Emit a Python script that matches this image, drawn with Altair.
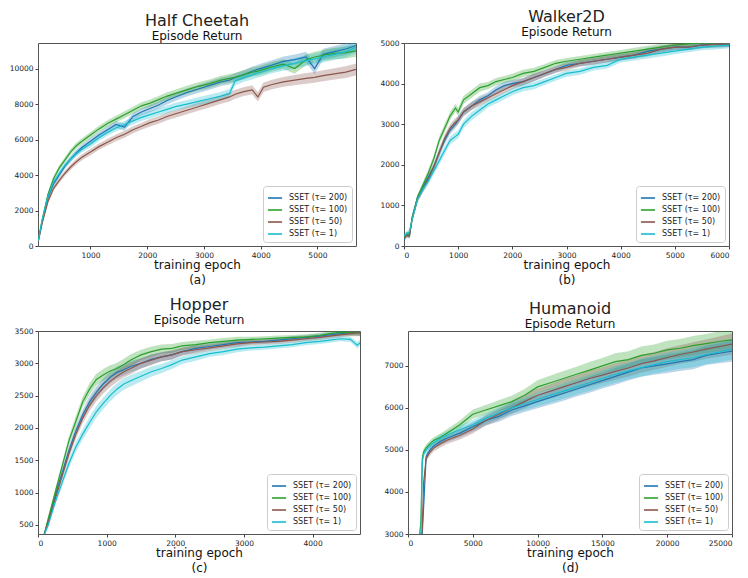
import altair as alt
import pandas as pd

SERIES = ["SSET (τ= 200)", "SSET (τ= 100)", "SSET (τ= 50)", "SSET (τ= 1)"]
COLORS = ["#1f77b4", "#2ca02c", "#8c564b", "#17becf"]

# ---------------- (a) Half Cheetah ----------------
a_x = [80, 150, 250, 350, 450, 550, 650, 750, 850, 1000, 1150, 1300, 1450, 1600, 1750,
       1900, 2050, 2200, 2350, 2500, 2700, 2900, 3100, 3300, 3450, 3550, 3700, 3850,
       3950, 4050, 4200, 4400, 4600, 4800, 4950, 5100, 5300, 5500, 5680]
a_tau200 = [300, 1400, 2700, 3500, 4000, 4500, 4900, 5250, 5550, 5900, 6250, 6550, 6850,
            6700, 7300, 7550, 7750, 7950, 8200, 8400, 8650, 8850, 9050, 9250, 9350, 9500,
            9650, 9850, 9950, 10050, 10200, 10400, 10500, 10650, 10000, 10800, 10950,
            11100, 11300]
a_tau100 = [300, 1500, 2900, 3800, 4400, 4850, 5300, 5650, 5900, 6250, 6600, 6900, 7150,
            7400, 7650, 7900, 8050, 8250, 8450, 8600, 8800, 9000, 9150, 9350, 9450, 9500,
            9650, 9800, 9850, 9950, 10100, 10250, 10000, 10500, 10650, 10750, 10850,
            10900, 11000]
a_tau50 = [250, 1300, 2500, 3250, 3700, 4100, 4450, 4750, 5000, 5300, 5600, 5850, 6100,
           6300, 6550, 6750, 6950, 7100, 7300, 7450, 7650, 7850, 8050, 8250, 8400, 8550,
           8700, 8800, 8400, 8950, 9100, 9250, 9350, 9450, 9500, 9600, 9700, 9800, 9950]
a_tau1 = [300, 1500, 2800, 3600, 4100, 4550, 4900, 5200, 5450, 5750, 6100, 6400, 6650,
          6850, 7050, 7250, 7400, 7550, 7700, 7850, 8000, 8150, 8300, 8450, 8600, 9300,
          9500, 9650, 9750, 9850, 10000, 10150, 10300, 10450, 10550, 10650, 10800, 10950,
          11200]
a_band = [60, 100, 120, 140, 150, 150, 160, 170, 170, 180, 180, 190, 190, 200, 200, 200,
          210, 210, 220, 220, 230, 230, 240, 240, 250, 250, 250, 260, 260, 270, 270, 280,
          290, 300, 300, 310, 320, 330, 340]

# ---------------- (b) Walker2D ----------------
b_x = [0, 50, 100, 150, 250, 350, 450, 550, 650, 750, 850, 950, 1000, 1100, 1250, 1400,
       1550, 1700, 1850, 2000, 2200, 2400, 2600, 2800, 3000, 3250, 3500, 3750, 4000, 4250,
       4500, 4750, 5000, 5250, 5500, 5750, 6000]
b_tau200 = [150, 300, 250, 700, 1200, 1450, 1700, 1950, 2300, 2600, 2850, 3000, 3100, 3300,
            3450, 3600, 3700, 3850, 3950, 4000, 4050, 4150, 4250, 4350, 4450, 4500, 4550,
            4600, 4650, 4700, 4800, 4850, 4900, 4900, 4950, 4970, 4980]
b_tau100 = [200, 300, 250, 700, 1200, 1500, 1800, 2150, 2600, 2900, 3200, 3400, 3300, 3600,
            3750, 3900, 3950, 4050, 4100, 4150, 4250, 4300, 4400, 4500, 4550, 4600, 4650,
            4700, 4750, 4800, 4850, 4900, 4950, 4980, 5000, 5000, 5000]
b_tau50 = [200, 250, 250, 650, 1150, 1400, 1650, 1950, 2300, 2650, 2900, 3050, 3100, 3300,
           3450, 3550, 3650, 3750, 3850, 3950, 4050, 4150, 4250, 4350, 4400, 4500, 4550,
           4600, 4650, 4700, 4750, 4850, 4900, 4900, 4950, 4970, 4980]
b_tau1 = [250, 300, 350, 650, 1150, 1400, 1600, 1850, 2100, 2350, 2600, 2700, 2750, 3000,
          3200, 3350, 3500, 3600, 3700, 3800, 3900, 3950, 4050, 4150, 4250, 4300, 4400,
          4450, 4600, 4650, 4700, 4750, 4800, 4850, 4900, 4920, 4950]
b_band = [60, 60, 60, 60, 70, 80, 90, 90, 100, 100, 100, 100, 100, 100, 100, 100, 90, 90,
          90, 90, 90, 90, 80, 80, 80, 80, 80, 80, 80, 80, 80, 80, 80, 80, 80, 80, 80]

# ---------------- (c) Hopper ----------------
c_x = [90, 150, 250, 350, 450, 550, 650, 750, 850, 950, 1050, 1150, 1250, 1350, 1500, 1650,
       1800, 1950, 2100, 2300, 2500, 2700, 2900, 3100, 3300, 3500, 3700, 3900, 4100, 4250,
       4400, 4550, 4650, 4690]
c_tau200 = [350, 550, 950, 1300, 1650, 1950, 2200, 2400, 2550, 2680, 2780, 2860, 2900, 2950,
            3000, 3060, 3100, 3130, 3180, 3230, 3260, 3290, 3320, 3330, 3340, 3360, 3380,
            3400, 3420, 3440, 3460, 3470, 3480, 3480]
c_tau100 = [350, 600, 1000, 1400, 1800, 2100, 2400, 2600, 2750, 2820, 2880, 2920, 2980, 3050,
            3130, 3180, 3220, 3230, 3270, 3290, 3320, 3340, 3360, 3370, 3380, 3390, 3400,
            3410, 3430, 3460, 3480, 3470, 3480, 3470]
c_tau50 = [350, 550, 900, 1250, 1600, 1900, 2150, 2350, 2500, 2620, 2720, 2800, 2870, 2920,
           3000, 3050, 3100, 3130, 3180, 3210, 3240, 3270, 3300, 3320, 3330, 3340, 3360,
           3380, 3400, 3420, 3440, 3460, 3470, 3470]
c_tau1 = [350, 500, 850, 1150, 1450, 1700, 1900, 2080, 2250, 2380, 2500, 2600, 2680, 2730,
          2800, 2870, 2920, 2980, 3050, 3100, 3150, 3180, 3220, 3240, 3250, 3270, 3290,
          3320, 3340, 3360, 3380, 3370, 3280, 3320]
c_band = [30, 40, 50, 60, 70, 80, 80, 90, 90, 90, 90, 90, 90, 90, 80, 80, 70, 70, 60, 60,
          50, 50, 50, 40, 40, 40, 40, 40, 40, 40, 40, 40, 50, 50]

# ---------------- (d) Humanoid ----------------
d_x = [900, 1000, 1100, 1200, 1400, 1700, 2000, 2500, 3000, 4000, 5000, 6000, 7000, 8000,
       9000, 10000, 11000, 12000, 13000, 14000, 15000, 16000, 17000, 18000, 19000, 20000,
       21000, 22000, 23000, 24000, 25000]
d_tau200 = [2800, 2900, 3000, 3600, 4850, 5000, 5100, 5200, 5280, 5400, 5550, 5700, 5800,
            5950, 6050, 6150, 6250, 6350, 6450, 6550, 6650, 6750, 6850, 6950, 7000, 7050,
            7100, 7150, 7250, 7300, 7350]
d_tau100 = [3000, 3300, 4800, 4950, 5050, 5150, 5230, 5300, 5400, 5600, 5850, 5950, 6050,
            6150, 6300, 6500, 6600, 6700, 6800, 6900, 7000, 7100, 7150, 7250, 7300, 7380,
            7420, 7480, 7530, 7580, 7620]
d_tau50 = [2800, 2900, 3100, 4200, 4800, 4950, 5050, 5150, 5230, 5350, 5500, 5700, 5850,
           6000, 6150, 6300, 6400, 6500, 6600, 6700, 6780, 6870, 6950, 7050, 7120, 7200,
           7270, 7330, 7400, 7460, 7520]
d_tau1 = [2800, 3000, 4700, 4900, 5000, 5100, 5180, 5280, 5350, 5480, 5600, 5750, 5880,
          6000, 6100, 6200, 6300, 6400, 6500, 6600, 6700, 6800, 6880, 6960, 7030, 7100,
          7150, 7200, 7270, 7330, 7400]
d_band = [60, 60, 80, 80, 80, 80, 80, 90, 90, 100, 110, 120, 130, 140, 150, 160, 170, 180,
          180, 190, 190, 200, 200, 210, 210, 220, 220, 230, 230, 240, 250]

FONT = "DejaVu Sans"


def panel(name, caption, xs, curves, band, xdom, ydom, xticks, yticks, width, height):
    rows = []
    for s, ys in zip(SERIES, curves):
        for xv, yv, bv in zip(xs, ys, band):
            rows.append({"epoch": xv, "ret": yv, "lo": yv - bv, "hi": yv + bv, "series": s})
    df = pd.DataFrame(rows)
    xscale = alt.Scale(domain=xdom, nice=False, zero=False)
    yscale = alt.Scale(domain=ydom, nice=False, zero=False)
    xenc = alt.X("epoch:Q", scale=xscale,
                 axis=alt.Axis(values=xticks, title=["training epoch", caption], grid=False,
                               format="d", domain=False, tickSize=3, labelFontSize=7.5,
                               labelColor="#222", tickColor="#444", titleFontSize=12,
                               titleFontWeight=400, titleColor="#111", titlePadding=1,
                               labelPadding=2, titleLineHeight=15, labelFont=FONT,
                               titleFont=FONT))
    yaxis = alt.Axis(values=yticks, title=None, grid=False, format="d", domain=False,
                     tickSize=3, labelFontSize=7.5, labelColor="#222", tickColor="#444",
                     labelPadding=2, labelFont=FONT)
    color = alt.Color("series:N", scale=alt.Scale(domain=SERIES, range=COLORS),
                      legend=alt.Legend(title=None, orient="bottom-right", symbolType="stroke",
                                        symbolStrokeWidth=1.6, symbolSize=200, symbolOpacity=1,
                                        labelFontSize=8, labelFont=FONT, labelColor="#222",
                                        fillColor="white", strokeColor="#cccccc",
                                        cornerRadius=3, padding=4, offset=4, rowPadding=0,
                                        labelOffset=6, symbolOffset=0))
    base = alt.Chart(df)
    areas = base.mark_area(opacity=0.3, clip=True).encode(
        x=xenc,
        y=alt.Y("lo:Q", scale=yscale, axis=yaxis),
        y2="hi:Q",
        color=color,
    )
    lines = base.mark_line(strokeWidth=1.2, clip=True).encode(
        x=xenc,
        y=alt.Y("ret:Q", scale=yscale, axis=yaxis),
        color=color,
    )
    return alt.layer(areas, lines).properties(
        width=width, height=height,
        title=alt.TitleParams(name, subtitle="Episode Return", fontSize=16, subtitleFontSize=12,
                              font=FONT, subtitleFont=FONT, fontWeight=400,
                              subtitleFontWeight=400, color="#222", subtitleColor="#111",
                              anchor="middle", subtitlePadding=2, offset=1),
    )


pa = panel("Half Cheetah", "(a)", a_x, [a_tau200, a_tau100, a_tau50, a_tau1], a_band,
           [75, 5680], [0, 11440], [1000, 2000, 3000, 4000, 5000],
           [0, 2000, 4000, 6000, 8000, 10000], 318, 203)
pb = panel("Walker2D", "(b)", b_x, [b_tau200, b_tau100, b_tau50, b_tau1], b_band,
           [0, 6000], [0, 5000], [0, 1000, 2000, 3000, 4000, 5000, 6000],
           [0, 1000, 2000, 3000, 4000, 5000], 325, 203)
pc = panel("Hopper", "(c)", c_x, [c_tau200, c_tau100, c_tau50, c_tau1], c_band,
           [0, 4690], [358, 3500], [0, 1000, 2000, 3000, 4000],
           [500, 1000, 1500, 2000, 2500, 3000, 3500], 322, 203)
pd_ = panel("Humanoid", "(d)", d_x, [d_tau200, d_tau100, d_tau50, d_tau1], d_band,
            [0, 25000], [3000, 7830], [0, 5000, 10000, 15000, 20000, 25000],
            [3000, 4000, 5000, 6000, 7000], 324, 203)

row1 = alt.hconcat(pa, pb, spacing=22).resolve_scale(color="independent")
row2 = alt.hconcat(pc, pd_, spacing=22).resolve_scale(color="independent")
chart = alt.vconcat(row1, row2, spacing=10).resolve_scale(color="independent").configure(
    padding=0
).configure_view(stroke="#555", strokeWidth=1).configure_axis(domain=False).configure_title(
    fontWeight=400, subtitleFontWeight=400)

chart.save("out.html", embed_options={"renderer": "svg", "actions": False})
